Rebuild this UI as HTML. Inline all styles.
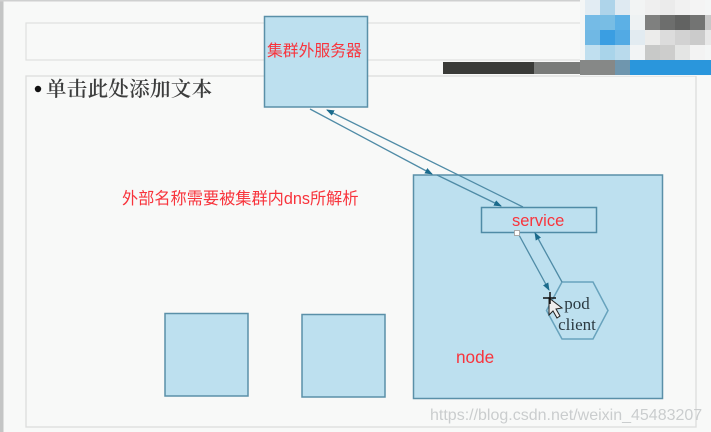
<!DOCTYPE html>
<html><head><meta charset="utf-8"><style>
html,body{margin:0;padding:0;background:#f8f9f8}
body{width:711px;height:432px;overflow:hidden;position:relative}
svg{position:absolute;left:0;top:0}
</style></head><body>
<svg width="711" height="432" viewBox="0 0 711 432" xmlns="http://www.w3.org/2000/svg">
<defs>
<marker id="a" markerWidth="8" markerHeight="6" refX="7" refY="3" orient="auto" markerUnits="userSpaceOnUse"><path d="M0 0L8 3L0 6Z" fill="#1b6b8c"/></marker>
</defs>
<rect width="711" height="432" fill="#f8f9f8"/>
<rect x="0" y="0" width="3.5" height="432" fill="#c4c5c5"/>
<rect x="0" y="0" width="711" height="1.5" fill="#cfd0d0"/>
<rect x="26" y="23" width="560" height="37" fill="none" stroke="#dfe0df" stroke-width="1.2"/>
<rect x="26" y="76" width="670" height="351" fill="none" stroke="#dcdddc" stroke-width="1.3"/>

<!-- pixelated block -->
<g shape-rendering="crispEdges">
<rect x="580" y="0" width="131" height="76" fill="#f4f6f6"/>
<rect x="585" y="0" width="15" height="15" fill="#e2ecf3"/><rect x="600" y="0" width="15" height="15" fill="#aed4ea"/><rect x="615" y="0" width="15" height="15" fill="#dfeaf2"/><rect x="630" y="0" width="15" height="15" fill="#f2f4f4"/><rect x="645" y="0" width="15" height="15" fill="#efefef"/><rect x="660" y="0" width="15" height="15" fill="#ebebeb"/><rect x="675" y="0" width="15" height="15" fill="#f1f1f1"/><rect x="690" y="0" width="15" height="15" fill="#f4f4f4"/>
<rect x="585" y="15" width="15" height="15" fill="#75bbe6"/><rect x="600" y="15" width="15" height="15" fill="#78bde4"/><rect x="615" y="15" width="15" height="15" fill="#5cb0e5"/><rect x="630" y="15" width="15" height="15" fill="#eef2f3"/><rect x="645" y="15" width="15" height="15" fill="#7f807f"/><rect x="660" y="15" width="15" height="15" fill="#6d6e6d"/><rect x="675" y="15" width="15" height="15" fill="#626362"/><rect x="690" y="15" width="15" height="15" fill="#737473"/><rect x="705" y="15" width="6" height="15" fill="#c8c8c8"/>
<rect x="585" y="30" width="15" height="15" fill="#70b8e4"/><rect x="600" y="30" width="15" height="15" fill="#3a9ee2"/><rect x="615" y="30" width="15" height="15" fill="#52aae4"/><rect x="630" y="30" width="15" height="15" fill="#e2ebf1"/><rect x="645" y="30" width="15" height="15" fill="#ececeb"/><rect x="660" y="30" width="15" height="15" fill="#dcdcdc"/><rect x="675" y="30" width="15" height="15" fill="#d2d2d2"/><rect x="690" y="30" width="15" height="15" fill="#cbcbcb"/><rect x="705" y="30" width="6" height="15" fill="#e8e8e8"/>
<rect x="585" y="45" width="15" height="15" fill="#c0dfef"/><rect x="600" y="45" width="15" height="15" fill="#a9d4ea"/><rect x="615" y="45" width="15" height="15" fill="#b9daec"/><rect x="630" y="45" width="15" height="15" fill="#f2f4f5"/><rect x="645" y="45" width="15" height="15" fill="#c8c9c8"/><rect x="660" y="45" width="15" height="15" fill="#cdcdcc"/><rect x="675" y="45" width="15" height="15" fill="#e4e5e4"/><rect x="690" y="45" width="15" height="15" fill="#f3f3f3"/>
<rect x="443" y="62" width="91" height="12" fill="#3a3b38"/>
<rect x="534" y="62" width="46" height="12" fill="#797b79"/>
<rect x="580" y="60" width="35" height="15" fill="#868887"/>
<rect x="615" y="60" width="15" height="15" fill="#6f96ae"/>
<rect x="630" y="60" width="81" height="15" fill="#2a96dc"/>
</g>

<!-- boxes -->
<g fill="#bde0ef" stroke="#5a90a8" stroke-width="1.5">
<rect x="264.5" y="16.5" width="103" height="90.5"/>
<rect x="413.5" y="175" width="249" height="223.5"/>
<rect x="165" y="313.5" width="83" height="82.5"/>
<rect x="302" y="314.5" width="83" height="82.5"/>
<rect x="481.5" y="207.5" width="115" height="25" stroke="#4f8ba6"/>
<polygon points="562,282 593,282 608,310.5 593,339 562,339 546.500,310.500" stroke="#68a3bd"/>
</g>

<!-- connectors -->
<g fill="none" stroke="#4f8ba6" stroke-width="1.3">
<line x1="310" y1="109" x2="432" y2="174" marker-end="url(#a)"/>
<line x1="437" y1="175" x2="501" y2="206" marker-end="url(#a)"/>
<line x1="523" y1="207" x2="327" y2="110" marker-end="url(#a)"/>
<line x1="519" y1="235" x2="549" y2="290" marker-end="url(#a)"/>
<line x1="562" y1="282" x2="535" y2="233" marker-end="url(#a)"/>
</g>
<rect x="514.500" y="230.500" width="5" height="5" fill="#fff" stroke="#aaa" stroke-width="1"/>

<!-- labels -->
<g font-family="'Liberation Sans','Noto Sans CJK SC',sans-serif" fill="#f8343c">
<text x="267" y="56" font-size="15.800">集群外服务器</text>
<text x="122" y="204" font-size="16.200">外部名称需要被集群内dns所解析</text>
<text x="512" y="226" font-size="16.500">service</text>
<text x="456" y="363" font-size="17.200">node</text>
</g>
<circle cx="38" cy="89" r="3.200" fill="#111"/>
<text x="46" y="96" font-family="'Noto Serif CJK SC','Liberation Serif',serif" font-size="20.500" font-weight="600" fill="#3c3d3d" letter-spacing="0.300">单击此处添加文本</text>
<g font-family="'Liberation Serif',serif" fill="#2b3a42" font-size="17" font-weight="500" text-anchor="middle">
<text x="577" y="309">pod</text>
<text x="577" y="330">client</text>
</g>

<!-- cursor -->
<path d="M549 298L549 315L553 311L557 318L560 316L556 309L562 308Z" fill="#eee" stroke="#222" stroke-width="1"/>
<path d="M543 298H556M550 292V304" stroke="#111" stroke-width="1.500" fill="none"/>
<!-- watermark -->
<text x="430" y="420" font-family="'Liberation Sans',sans-serif" font-size="16" fill="#c6c9ca" opacity=".9">https://blog.csdn.net/weixin_45483207</text>
</svg>
</body></html>
